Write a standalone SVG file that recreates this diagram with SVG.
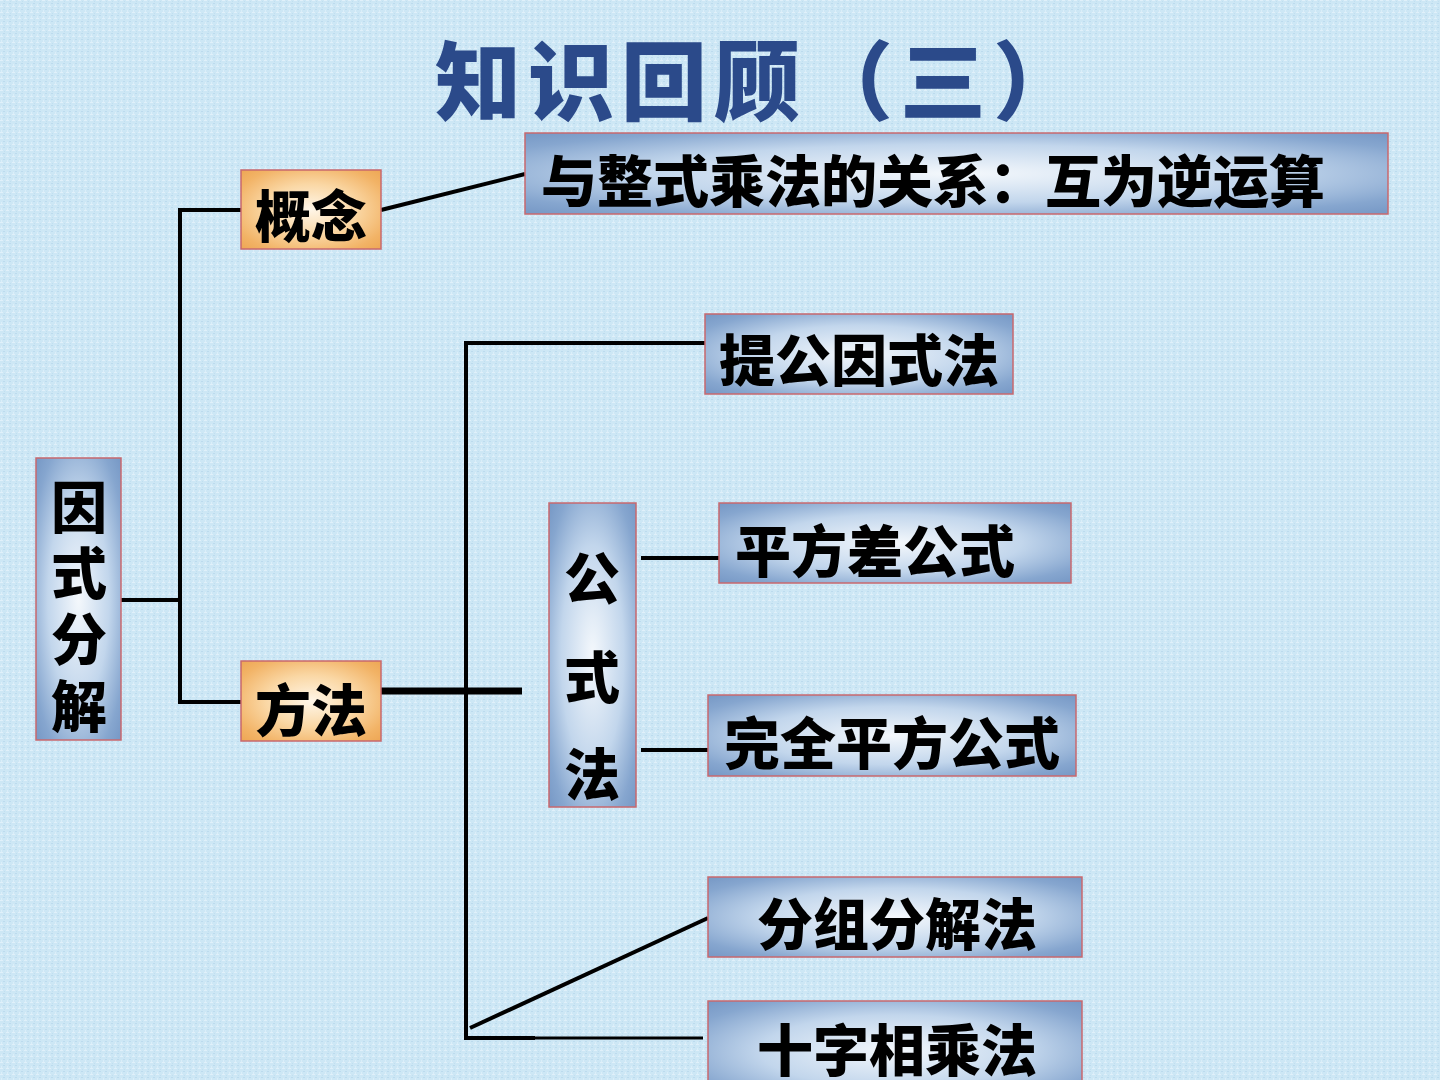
<svg xmlns="http://www.w3.org/2000/svg" width="1440" height="1080" viewBox="0 0 1440 1080">
<defs>
<radialGradient id="blueG" cx="0.5" cy="0.5" r="0.72">
<stop offset="0" stop-color="#F4F8FC"/>
<stop offset="0.5" stop-color="#C2D6EC"/>
<stop offset="0.82" stop-color="#86A6CF"/>
<stop offset="1" stop-color="#7496C4"/>
</radialGradient>
<radialGradient id="orangeG" cx="0.5" cy="0.5" r="0.72">
<stop offset="0" stop-color="#FFF6E8"/>
<stop offset="0.45" stop-color="#FAD7A4"/>
<stop offset="0.8" stop-color="#F2B366"/>
<stop offset="1" stop-color="#EDA552"/>
</radialGradient>
<pattern id="tex" width="6" height="6" patternUnits="userSpaceOnUse">
<rect width="6" height="6" fill="#CDE7F5"/>
<rect x="0" y="0" width="3" height="1" fill="#E0F0FA"/>
<rect x="3" y="3" width="2" height="1" fill="#BCDBEE"/>
<rect x="1" y="4" width="1" height="2" fill="#DBEEF9"/>
<rect x="4" y="1" width="1" height="1" fill="#C1DFF0"/>
</pattern>
<style>
.box{stroke:#C8686E;stroke-width:1.5}
.blue{fill:url(#blueG)}
.orange{fill:url(#orangeG)}
.t{font-family:"Noto Sans CJK SC","Noto Sans CJK JP",sans-serif;font-weight:900;font-size:56px;fill:#000;dominant-baseline:central}
.c{text-anchor:middle}
.ln{stroke:#000;stroke-width:4;fill:none}
</style>
</defs>
<rect width="1440" height="1080" fill="url(#tex)"/>
<text x="435" y="76" dominant-baseline="central" letter-spacing="7" font-family="'Noto Sans CJK SC',sans-serif" font-weight="900" font-size="86" fill="#2B4A8A">知识回顾（三）</text>

<g id="connectors">
<polyline class="ln" points="121,600 180,600"/>
<polyline class="ln" points="241,210 180,210 180,702 241,702"/>
<line class="ln" x1="381" y1="210" x2="525" y2="174"/>
<line class="ln" x1="381" y1="691" x2="522" y2="691" style="stroke-width:7"/>
<polyline class="ln" points="705,343 466,343 466,1038 535,1038"/>
<line class="ln" x1="535" y1="1038" x2="703" y2="1038" style="stroke-width:3"/>
<line class="ln" x1="470" y1="1028" x2="708" y2="918"/>
<line class="ln" x1="641" y1="558" x2="719" y2="558"/>
<line class="ln" x1="641" y1="750" x2="708" y2="750"/>
</g>

<g id="n-root"><rect class="box blue" x="36" y="458" width="85" height="282"/>
<text class="t c" x="79" y="503">因</text><text class="t c" x="79" y="569">式</text><text class="t c" x="79" y="635">分</text><text class="t c" x="79" y="702">解</text></g>
<g id="n-concept"><rect class="box orange" x="241" y="170" width="140" height="79"/><text class="t" x="255" y="212">概念</text></g>
<g id="n-method"><rect class="box orange" x="241" y="661" width="140" height="80"/><text class="t" x="255" y="706">方法</text></g>
<g id="n-relation"><rect class="box blue" x="525" y="133" width="863" height="81"/><text class="t" x="541" y="177">与整式乘法的关系：互为逆运算</text></g>
<g id="n-common"><rect class="box blue" x="705" y="314" width="308" height="80"/><text class="t" x="719" y="356">提公因式法</text></g>
<g id="n-formula"><rect class="box blue" x="549" y="503" width="87" height="304"/>
<text class="t c" x="592" y="574">公</text><text class="t c" x="592" y="673">式</text><text class="t c" x="592" y="770">法</text></g>
<g id="n-diffsq"><rect class="box blue" x="719" y="503" width="352" height="80"/><text class="t" x="735" y="547">平方差公式</text></g>
<g id="n-perfsq"><rect class="box blue" x="708" y="695" width="368" height="81"/><text class="t" x="724" y="739">完全平方公式</text></g>
<g id="n-group"><rect class="box blue" x="708" y="877" width="374" height="80"/><text class="t" x="757" y="920">分组分解法</text></g>
<g id="n-cross"><rect class="box blue" x="708" y="1001" width="374" height="100"/><text class="t" x="757" y="1046">十字相乘法</text></g>
</svg>
